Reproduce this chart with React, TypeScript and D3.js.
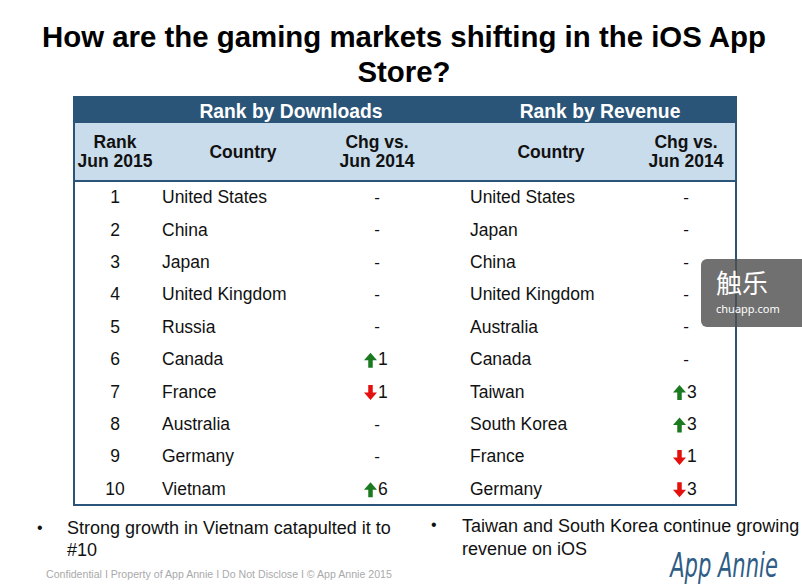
import React from "react";
import * as d3 from "d3";

const ranks = [1, 2, 3, 4, 5, 6, 7, 8, 9, 10];
const downloadCountries = ["United States", "China", "Japan", "United Kingdom", "Russia", "Canada", "France", "Australia", "Germany", "Vietnam"];
const downloadChange = [0, 0, 0, 0, 0, 1, -1, 0, 0, 6];
const revenueCountries = ["United States", "Japan", "China", "United Kingdom", "Australia", "Canada", "Taiwan", "South Korea", "France", "Germany"];
const revenueChange = [0, 0, 0, 0, 0, 0, 3, 3, -1, -3];

const FONT = "Arial, 'Liberation Sans', Helvetica, sans-serif";
const DARK = "#2b5578";
const LIGHT = "#c9dcec";

function Arrow({ x, y, up }: { x: number; y: number; up: boolean }) {
  const h = 15, w = 13, sw = 4.5, head = 7.5;
  const p = up
    ? `M${x},${y - h / 2} L${x + w / 2},${y - h / 2 + head} L${x + sw / 2},${y - h / 2 + head} L${x + sw / 2},${y + h / 2} L${x - sw / 2},${y + h / 2} L${x - sw / 2},${y - h / 2 + head} L${x - w / 2},${y - h / 2 + head} Z`
    : `M${x},${y + h / 2} L${x + w / 2},${y + h / 2 - head} L${x + sw / 2},${y + h / 2 - head} L${x + sw / 2},${y - h / 2} L${x - sw / 2},${y - h / 2} L${x - sw / 2},${y + h / 2 - head} L${x - w / 2},${y + h / 2 - head} Z`;
  return <path d={p} fill={up ? "#1b7a1f" : "#e3100e"} />;
}

function Change({ v, cx, y }: { v: number; cx: number; y: number }) {
  if (v === 0)
    return (
      <text x={cx} y={y} textAnchor="middle" dominantBaseline="central" fontSize={17} fontFamily={FONT} fill="#111">
        -
      </text>
    );
  return (
    <g>
      <Arrow x={cx - 6.5} y={y + 1} up={v > 0} />
      <text x={cx + 1} y={y} dominantBaseline="central" fontSize={17.5} fontFamily={FONT} fill="#111">
        {Math.abs(v)}
      </text>
    </g>
  );
}

export default function App() {
  const W = 802, H = 586;
  const tx0 = 74, tx1 = 736;
  const bodyTop = 181, bodyBot = 505;
  const y = d3.scaleBand<number>().domain(d3.range(ranks.length)).range([bodyTop, bodyBot]).paddingOuter(0);
  const col = { rank: 115, dlCountry: 162, dlChg: 377, revCountry: 470, revChg: 686 };

  return (
    <svg width={W} height={H} style={{ position: "absolute", left: 0, top: 0 }} xmlns="http://www.w3.org/2000/svg">
      <rect width={W} height={H} fill="#fff" />
      <text x={404} y={47} textAnchor="middle" fontSize={29.4} fontWeight="bold" fontFamily={FONT} fill="#000">
        How are the gaming markets shifting in the iOS App
      </text>
      <text x={404} y={82} textAnchor="middle" fontSize={29.4} fontWeight="bold" fontFamily={FONT} fill="#000">
        Store?
      </text>

      <rect x={tx0} y={97} width={tx1 - tx0} height={26} fill={DARK} />
      <rect x={tx0} y={123} width={tx1 - tx0} height={58} fill={LIGHT} />
      <line x1={tx0} x2={tx1} y1={181} y2={181} stroke={DARK} strokeWidth={2} />
      <rect x={tx0} y={97} width={tx1 - tx0} height={bodyBot - 97} fill="none" stroke={DARK} strokeWidth={2} />

      <text x={291} y={111} textAnchor="middle" dominantBaseline="central" fontSize={19.3} fontWeight="bold" fontFamily={FONT} fill="#fff">
        Rank by Downloads
      </text>
      <text x={600} y={111} textAnchor="middle" dominantBaseline="central" fontSize={19.3} fontWeight="bold" fontFamily={FONT} fill="#fff">
        Rank by Revenue
      </text>

      {[
        { x: col.rank, lines: ["Rank", "Jun 2015"] },
        { x: 243, lines: ["Country"] },
        { x: 377, lines: ["Chg vs.", "Jun 2014"] },
        { x: 551, lines: ["Country"] },
        { x: 686, lines: ["Chg vs.", "Jun 2014"] },
      ].map((h, i) => (
        <text key={i} textAnchor="middle" fontSize={17.5} fontWeight="bold" fontFamily={FONT} fill="#111">
          {h.lines.length === 1 ? (
            <tspan x={h.x} y={158}>{h.lines[0]}</tspan>
          ) : (
            h.lines.map((l, j) => (
              <tspan key={j} x={h.x} y={148 + j * 19}>
                {l}
              </tspan>
            ))
          )}
        </text>
      ))}

      {ranks.map((r, i) => {
        const cy = (y(i) as number) + y.bandwidth() / 2;
        return (
          <g key={r}>
            <text x={col.rank} y={cy} textAnchor="middle" dominantBaseline="central" fontSize={17.5} fontFamily={FONT} fill="#111">
              {r}
            </text>
            <text x={col.dlCountry} y={cy} dominantBaseline="central" fontSize={17.5} fontFamily={FONT} fill="#111">
              {downloadCountries[i]}
            </text>
            <Change v={downloadChange[i]} cx={col.dlChg} y={cy} />
            <text x={col.revCountry} y={cy} dominantBaseline="central" fontSize={17.5} fontFamily={FONT} fill="#111">
              {revenueCountries[i]}
            </text>
            <Change v={revenueChange[i]} cx={col.revChg} y={cy} />
          </g>
        );
      })}

      <text x={37} y={533} fontSize={16} fontFamily={FONT} fill="#111">•</text>
      <text fontSize={18} fontFamily={FONT} fill="#111">
        <tspan x={67} y={534}>Strong growth in Vietnam catapulted it to</tspan>
        <tspan x={67} y={556}>#10</tspan>
      </text>
      <text x={431} y={530} fontSize={16} fontFamily={FONT} fill="#111">•</text>
      <text fontSize={18} fontFamily={FONT} fill="#111">
        <tspan x={462} y={532}>Taiwan and South Korea continue growing</tspan>
        <tspan x={462} y={555}>revenue on iOS</tspan>
      </text>

      <text x={46} y={578} fontSize={10.6} fontFamily={FONT} fill="#aaa">
        Confidential  I  Property of App Annie  I  Do Not Disclose  I  © App Annie 2015
      </text>

      <text x={0} y={0} textAnchor="middle" fontSize={30} fontStyle="italic" fontFamily="'DejaVu Sans Condensed', 'Liberation Sans Narrow', sans-serif" fill="#2f5d86" transform="translate(724,577) scale(0.78,1.15)">
        App Annie
      </text>

      <rect x={701} y={259} width={120} height={68} rx={6} fill="rgba(80,80,80,0.82)" />
      <text x={716} y={293} fontSize={26} fontFamily="'Noto Sans CJK SC', sans-serif" fill="#fff">触乐</text>
      <text x={716} y={313} fontSize={11} fontFamily="'Noto Sans', sans-serif" fill="#fff">chuapp.com</text>
    </svg>
  );
}
